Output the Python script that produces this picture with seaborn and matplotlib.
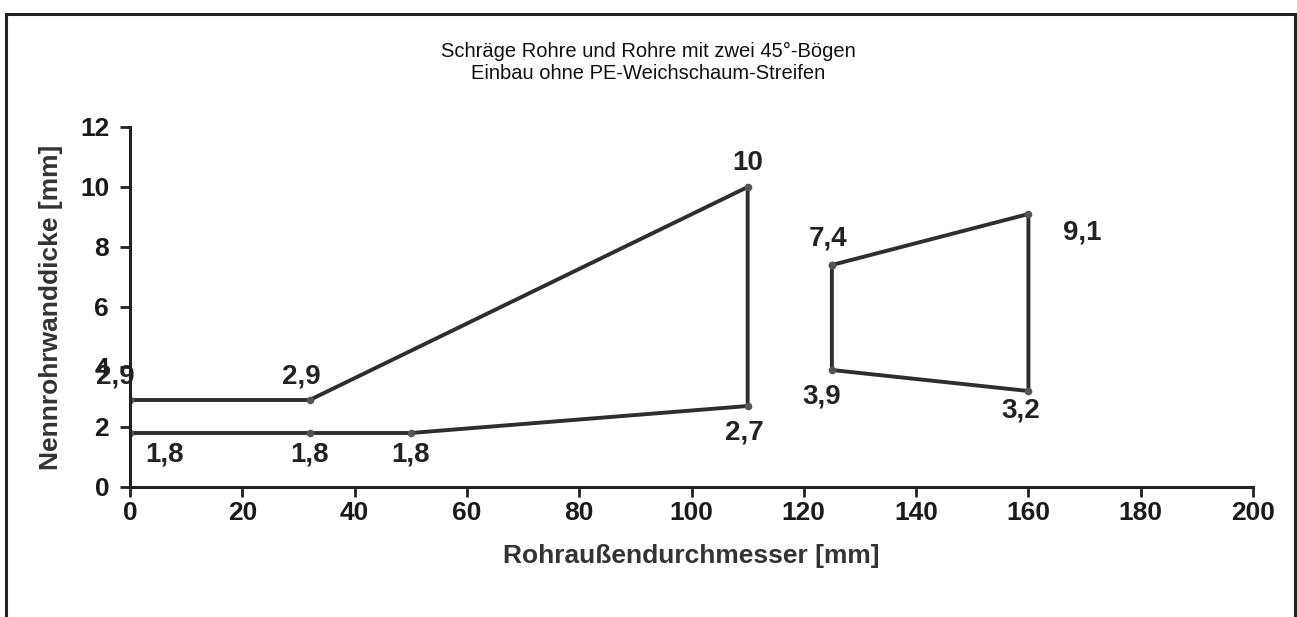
import matplotlib
matplotlib.use("Agg")
import matplotlib.pyplot as plt
import seaborn as sns
from matplotlib.patches import Rectangle

# ---- data ----
outer_x = [0, 32, 110, 110, 50, 32, 0]
outer_y = [2.9, 2.9, 10, 2.7, 1.8, 1.8, 1.8]
large_x = [125, 160, 160, 125, 125]
large_y = [7.4, 9.1, 3.2, 3.9, 7.4]

label_x = [0, 0, 32, 32, 50, 110, 110, 125, 160, 125, 160]
label_y = [2.9, 1.8, 2.9, 1.8, 1.8, 10, 2.7, 7.4, 9.1, 3.9, 3.2]
label_text = ["2,9", "1,8", "2,9", "1,8", "1,8", "10", "2,7", "7,4", "9,1", "3,9", "3,2"]
# label offsets in pixels (dx, dy)
label_off = [(-15, 24), (35, -22), (-8, 24), (0, -22), (0, -22), (0, 24),
             (-3, -26), (-4, 27), (54, -19), (-10, -27), (-8, -20)]

x_ticks = list(range(0, 201, 20))
y_ticks = list(range(0, 13, 2))

title = "Schräge Rohre und Rohre mit zwei 45°-Bögen\nEinbau ohne PE-Weichschaum-Streifen"
xlabel = "Rohraußendurchmesser [mm]"
ylabel = "Nennrohrwanddicke [mm]"

# ---- style ----
sns.set_style("white")
plt.rcParams["font.family"] = ["Liberation Sans", "DejaVu Sans"]

DPI = 100
fig = plt.figure(figsize=(12.97, 6.17), dpi=DPI)
ax = fig.add_axes([130 / 1297, 1 - 487 / 617, (1253 - 130) / 1297, (487 - 127) / 617])

line_color = "#2e2e2e"
for xs, ys in [(outer_x, outer_y), (large_x, large_y)]:
    sns.lineplot(x=xs, y=ys, sort=False, estimator=None, ax=ax, color=line_color,
                 linewidth=2.8, marker="o", markersize=5.5, markeredgewidth=0,
                 markerfacecolor="#555555")

for xv, yv, t, (dx, dy) in zip(label_x, label_y, label_text, label_off):
    ax.annotate(t, (xv, yv), xytext=(dx * 0.72, dy * 0.72), textcoords="offset points",
                ha="center", va="center", fontsize=20, fontweight="bold", color="#222222")

ax.set_xlim(0, 200)
ax.set_ylim(0, 12)
ax.set_xticks(x_ticks)
ax.set_yticks(y_ticks)
ax.tick_params(axis="both", direction="out", length=7, width=2, color="#222222",
               labelsize=19, bottom=True, left=True)
ax.tick_params(axis="x", pad=3)
ax.tick_params(axis="y", pad=8)
for lbl in ax.get_xticklabels() + ax.get_yticklabels():
    lbl.set_fontweight("bold")
    lbl.set_color("#1a1a1a")

for s in ["top", "right"]:
    ax.spines[s].set_visible(False)
for s in ["left", "bottom"]:
    ax.spines[s].set_linewidth(2.2)
    ax.spines[s].set_color("#222222")

ax.set_xlabel(xlabel, fontsize=19, fontweight="bold", color="#333333", labelpad=14)
ax.set_ylabel(ylabel, fontsize=19, fontweight="bold", color="#333333", labelpad=12)

fig.text(648 / 1297, 1 - 62 / 617, title, ha="center", va="center", fontsize=14.5,
         color="#111111", linespacing=1.2)

fig.patches.append(Rectangle((6 / 1297, -0.1), (1295 - 6) / 1297, 1 - 14 / 617 + 0.1,
                             transform=fig.transFigure, fill=False, edgecolor="#222222",
                             linewidth=2.2))

fig.savefig("out.png", dpi=DPI)
